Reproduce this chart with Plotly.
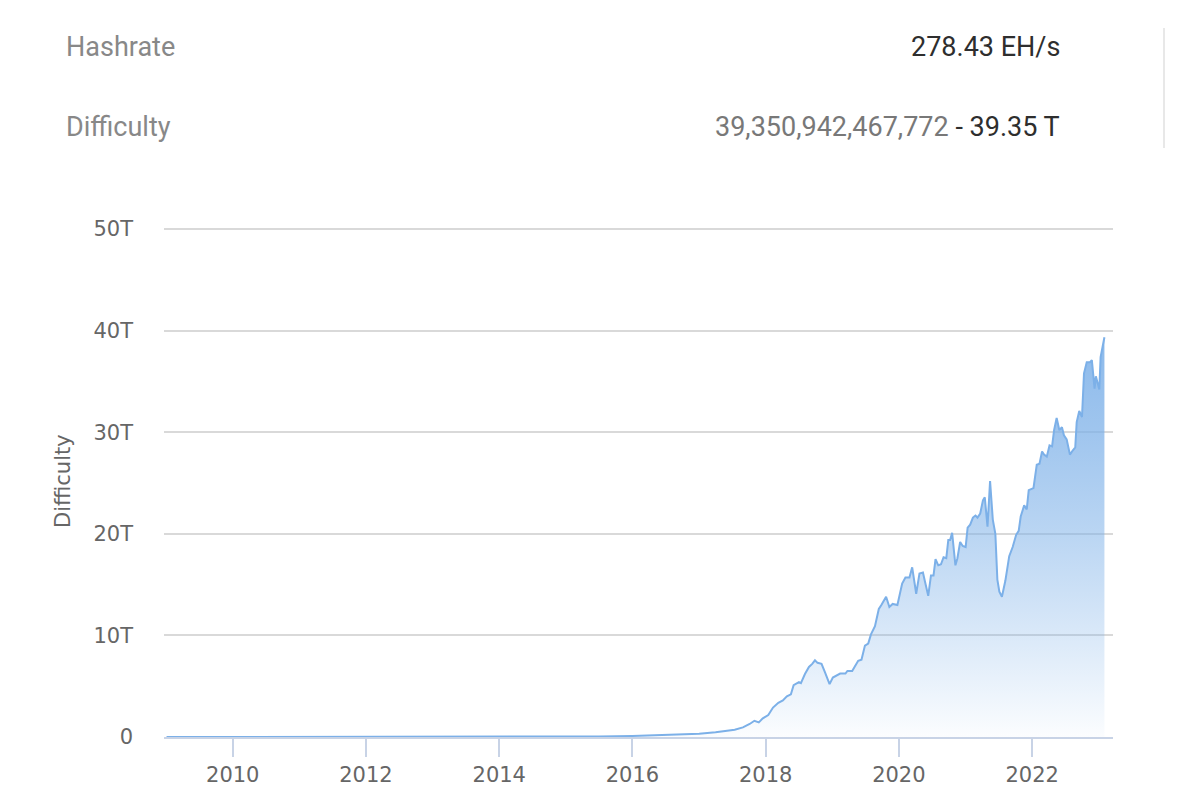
import plotly.graph_objects as go

# ---------------- data ----------------
dates = [
    "2009-01-03", "2010-01-01", "2011-01-01", "2012-01-01", "2013-01-01", "2013-07-01",
    "2014-01-01", "2014-07-01", "2015-01-01", "2015-07-01", "2016-01-01", "2016-04-01",
    "2016-07-01", "2016-10-01", "2017-01-01", "2017-04-01", "2017-06-01", "2017-07-15",
    "2017-08-29", "2017-10-05", "2017-10-31", "2017-11-24", "2017-12-16", "2018-01-15",
    "2018-02-10", "2018-03-11", "2018-04-05", "2018-04-27", "2018-05-19", "2018-06-03",
    "2018-07-02", "2018-07-13", "2018-08-04", "2018-08-26", "2018-09-13", "2018-09-28",
    "2018-10-12", "2018-11-03", "2018-11-21", "2018-12-17", "2019-01-04", "2019-01-22",
    "2019-02-13", "2019-03-14", "2019-03-25", "2019-04-20", "2019-05-05", "2019-05-23",
    "2019-06-10", "2019-06-29", "2019-07-17", "2019-08-01", "2019-08-23", "2019-09-13",
    "2019-09-27", "2019-10-23", "2019-11-10", "2019-11-28", "2019-12-24", "2020-01-19",
    "2020-02-06", "2020-02-28", "2020-03-14", "2020-04-05", "2020-04-23", "2020-05-12",
    "2020-05-23", "2020-06-10", "2020-06-25", "2020-07-09", "2020-07-20", "2020-08-04",
    "2020-08-19", "2020-09-02", "2020-09-17", "2020-09-28", "2020-10-08", "2020-10-19",
    "2020-11-06", "2020-11-17", "2020-12-02", "2020-12-16", "2021-01-01", "2021-01-12",
    "2021-01-26", "2021-02-10", "2021-02-24", "2021-03-07", "2021-03-22", "2021-04-06",
    "2021-04-16", "2021-05-01", "2021-05-15", "2021-05-30", "2021-06-13", "2021-06-24",
    "2021-07-05", "2021-07-19", "2021-08-07", "2021-08-28", "2021-09-16", "2021-10-05",
    "2021-10-19", "2021-10-30", "2021-11-18", "2021-12-02", "2021-12-13", "2022-01-08",
    "2022-01-26", "2022-02-10", "2022-02-24", "2022-03-07", "2022-03-22", "2022-04-06",
    "2022-04-20", "2022-05-01", "2022-05-15", "2022-05-30", "2022-06-13", "2022-06-24",
    "2022-07-09", "2022-07-27", "2022-08-11", "2022-08-25", "2022-09-02", "2022-09-16",
    "2022-10-01", "2022-10-12", "2022-10-27", "2022-11-14", "2022-11-24", "2022-12-09",
    "2022-12-16", "2023-01-04", "2023-01-11", "2023-02-01",
]
difficulty_t = [
    0.0, 0.0, 0.00000002, 0.0000012, 0.0000034, 0.00002,
    0.0014, 0.017, 0.041, 0.049, 0.10, 0.17,
    0.21, 0.25, 0.32, 0.47, 0.60, 0.71,
    0.95, 1.28, 1.60, 1.44, 1.83, 2.16,
    2.90, 3.37, 3.60, 4.00, 4.20, 5.10,
    5.40, 5.30, 6.20, 6.90, 7.20, 7.55,
    7.30, 7.20, 6.40, 5.20, 5.85, 6.00,
    6.25, 6.25, 6.50, 6.50, 6.90, 7.50,
    7.60, 9.00, 9.20, 10.1, 10.9, 12.6,
    13.0, 13.8, 12.8, 13.1, 13.0, 15.1,
    15.7, 15.7, 16.7, 14.1, 16.1, 16.2,
    15.3, 13.9, 15.9, 15.9, 17.5, 16.9,
    17.0, 17.7, 17.6, 19.4, 19.4, 20.1,
    16.9, 17.6, 19.2, 18.8, 18.7, 20.6,
    20.9, 21.6, 21.8, 21.6, 22.0, 23.3,
    23.6, 20.7, 25.2, 21.4, 20.0, 15.5,
    14.3, 13.8, 15.4, 17.8, 18.7, 19.9,
    20.3, 21.7, 22.8, 22.4, 24.3, 24.5,
    26.8, 26.9, 28.1, 27.8, 27.6, 28.7,
    28.6, 30.2, 31.4, 30.2, 30.5, 29.7,
    29.3, 27.8, 28.2, 28.5, 31.0, 32.1,
    31.5, 35.8, 36.9, 36.9, 37.1, 34.3,
    35.5, 34.2, 37.4, 39.35,
]

year_ticks = ["2010-01-01", "2012-01-01", "2014-01-01", "2016-01-01",
              "2018-01-01", "2020-01-01", "2022-01-01"]
year_labels = ["2010", "2012", "2014", "2016", "2018", "2020", "2022"]
y_ticks = [0, 10, 20, 30, 40, 50]
y_labels = ["0", "10T", "20T", "30T", "40T", "50T"]

header_hashrate = "278.43 EH/s"
header_difficulty_full = "39,350,942,467,772"
header_difficulty_short = "39.35 T"

# ---------------- layout helpers ----------------
OFF = 8  # page body margin offset
Y_MAX = 50.4  # a little headroom so the 50T gridline is drawn
W, H = 1190 - OFF, 802 - OFF
L, R = 164 - OFF, 1113 - OFF
B = 737 - OFF
T = B - round((737 - 229) * Y_MAX / 50)


def px(x):
    return (x - OFF - L) / (R - L)


def py(y):
    return (B - (y - OFF)) / (B - T)


AX_FONT = dict(family="DejaVu Sans", size=21, color="#666666")
HDR_FONT = "Roboto"

fig = go.Figure()
fig.add_trace(go.Scatter(
    x=dates, y=difficulty_t, mode="lines",
    line=dict(color="#7cb0e8", width=2),
    fill="tozeroy",
    fillgradient=dict(
        type="vertical",
        colorscale=[
            [0, "rgba(124,176,232,0.03)"],
            [0.25, "rgba(124,176,232,0.28)"],
            [0.5, "rgba(124,176,232,0.52)"],
            [0.75, "rgba(124,176,232,0.72)"],
            [1, "rgba(124,176,232,0.88)"],
        ],
    ),
    hoverinfo="skip",
    showlegend=False,
))

fig.update_layout(
    width=W, height=H,
    margin=dict(l=L, r=W - R, t=T, b=H - B, pad=0),
    paper_bgcolor="white", plot_bgcolor="white",
    showlegend=False,
    xaxis=dict(
        type="date",
        range=["2008-12-20", "2023-03-20"],
        tickvals=year_ticks, ticktext=year_labels,
        showgrid=False, zeroline=False,
        showline=True, linecolor="#c8d3e6", linewidth=2,
        ticks="outside", ticklen=18, tickwidth=2, tickcolor="#c8d3e6",
        tickfont=AX_FONT,
        fixedrange=True,
    ),
    yaxis=dict(
        range=[0, Y_MAX],
        tickvals=y_ticks, ticktext=y_labels,
        showgrid=True, gridcolor="#d9d9d9", gridwidth=1.5,
        zeroline=False, showline=False, ticks="",
        tickfont=AX_FONT,
        ticklabelstandoff=30,
        fixedrange=True,
    ),
    annotations=[
        dict(text="Difficulty", textangle=-90, xref="paper", yref="paper",
             x=px(63), y=py(481), xanchor="center", yanchor="middle",
             showarrow=False, font=AX_FONT),
        dict(text="Hashrate", xref="paper", yref="paper",
             x=px(64), y=py(47), xanchor="left", yanchor="middle",
             showarrow=False, font=dict(family=HDR_FONT, size=27, color="#888888")),
        dict(text="Difficulty", xref="paper", yref="paper",
             x=px(64), y=py(127), xanchor="left", yanchor="middle",
             showarrow=False, font=dict(family=HDR_FONT, size=27, color="#888888")),
        dict(text=header_hashrate, xref="paper", yref="paper",
             x=px(1062), y=py(47), xanchor="right", yanchor="middle",
             showarrow=False, font=dict(family=HDR_FONT, size=27, color="#2e2e2e")),
        dict(text=f"<span style='color:#787878'>{header_difficulty_full}</span> - {header_difficulty_short}",
             xref="paper", yref="paper",
             x=px(1062), y=py(127), xanchor="right", yanchor="middle",
             showarrow=False, font=dict(family=HDR_FONT, size=27, color="#2e2e2e")),
    ],
    shapes=[
        dict(type="line", xref="paper", yref="paper",
             x0=px(1164), x1=px(1164), y0=py(28), y1=py(148),
             line=dict(color="#e8e8e8", width=2)),
    ],
)

fig.write_html("out.html", config={"displayModeBar": False})
